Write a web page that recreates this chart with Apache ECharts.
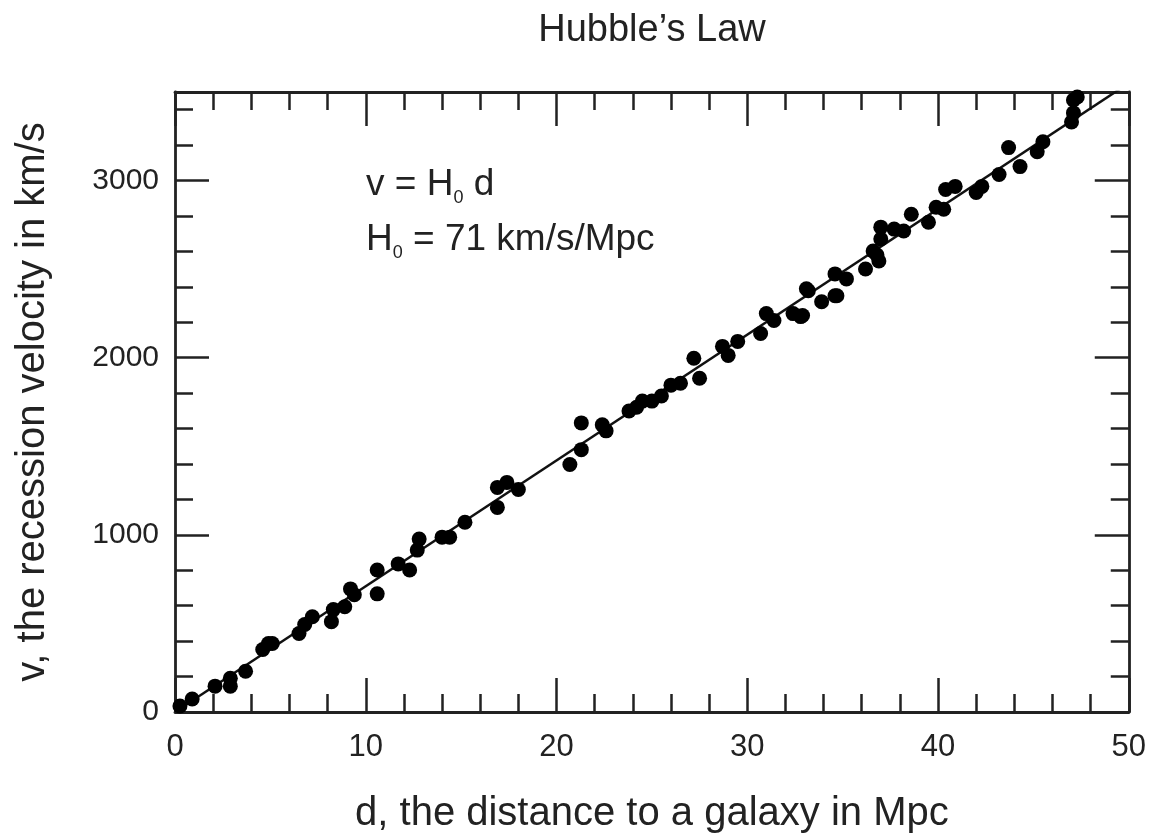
<!DOCTYPE html>
<html><head><meta charset="utf-8">
<script src="https://cdn.jsdelivr.net/npm/echarts@6/dist/echarts.min.js"></script>
<style>html,body{margin:0;padding:0;background:#fff}#c{width:1149px;height:839px}</style>
</head><body><div id="c"></div>
<script>
const distances = [0.26,0.9,2.1,2.9,2.9,3.7,4.6,4.9,5.1,6.5,6.8,7.2,8.2,8.3,8.9,9.2,9.4,10.6,10.6,11.7,12.3,12.7,12.8,14.0,14.4,15.2,16.9,16.9,17.4,18.0,20.7,21.3,21.3,22.4,22.6,23.8,24.5,25.0,25.5,26.0,26.5,27.2,27.5,28.7,29.0,29.5,30.7,31.0,31.4,32.4,32.8,33.9,33.2,34.7,32.9,33.1,34.6,34.6,35.2,36.2,36.6,36.9,37.0,37.0,37.7,38.2,38.6,39.5,39.9,40.3,40.4,40.9,42.0,42.3,43.2,43.7,44.3,45.2,45.5,47.0,47.1,47.1,47.3,24.2,36.8];
const velocities = [34,73,146,190,146,230,353,387,387,443,494,538,510,578,594,695,662,802,667,836,802,914,976,987,987,1071,1268,1155,1296,1256,1397,1481,1632,1621,1587,1699,1755,1755,1784,1845,1856,1997,1884,2064,2013,2092,2137,2249,2210,2249,2232,2316,2378,2350,2238,2389,2350,2473,2445,2501,2602,2546,2737,2670,2726,2715,2810,2765,2849,2838,2950,2967,2933,2967,3034,3186,3079,3163,3219,3331,3382,3455,3472,1720,2580];
const fitD = [0, 50];
const fitV = [0, 3550];
const xTicks = [0,10,20,30,40,50];
const yTicks = [0,1000,2000,3000];

const font = 'Liberation Sans, Arial, Helvetica, sans-serif';
const pts = distances.map((d,i)=>[d, velocities[i]]);
const fit = fitD.map((d,i)=>[d, fitV[i]]);

const axisCommon = {
  axisLine:{show:true, onZero:false, lineStyle:{color:'#222', width:2.8}},
  axisTick:{show:true, inside:true, length:34, lineStyle:{color:'#222', width:2.5}},
  minorTick:{show:true, splitNumber:5, length:18, lineStyle:{color:'#222', width:2.5}},
  splitLine:{show:false}
};
const sub = {fontFamily:font, fontSize:18, fill:'#222', padding:[26,0,0,0], lineHeight:44};
const main = {fontFamily:font, fontSize:37, fill:'#222', lineHeight:44};
const chart = echarts.init(document.getElementById('c'));
chart.setOption({
  animation:false,
  backgroundColor:'#fff',
  grid:{left:175, right:19, top:92, bottom:123},
  xAxis:[
    Object.assign({type:'value', min:0, max:50, interval:10, position:'bottom',
      name:'d, the distance to a galaxy in Mpc', nameLocation:'middle', nameGap:82,
      nameTextStyle:{fontFamily:font, fontSize:40, color:'#222'},
      axisLabel:{show:true, fontFamily:font, fontSize:31, color:'#222', margin:20,
        formatter:v=>xTicks.includes(v)?String(v):''}}, axisCommon),
    Object.assign({type:'value', min:0, max:50, interval:10, position:'top', axisLabel:{show:false}}, axisCommon)
  ],
  yAxis:[
    Object.assign({type:'value', min:0, max:3500, interval:1000, position:'left',
      name:'v, the recession velocity in km/s', nameLocation:'middle', nameGap:122, nameRotate:90,
      nameTextStyle:{fontFamily:font, fontSize:40, color:'#222'},
      axisLabel:{show:true, fontFamily:font, fontSize:30, color:'#222', margin:16,
        formatter:v=>yTicks.includes(v)?String(v):''}}, axisCommon),
    Object.assign({type:'value', min:0, max:3500, interval:1000, position:'right', axisLabel:{show:false}}, axisCommon)
  ],
  graphic:[
    {type:'text', x:652, y:12, style:{text:"Hubble’s Law", fontFamily:font, fontSize:38, fill:'#222', align:'center', verticalAlign:'top'}},
    {type:'text', left:366, top:163, style:{text:'{a|v = H}{s|0}{a| d}', fontFamily:font, rich:{a:main, s:sub}}},
    {type:'text', left:366, top:218, style:{text:'{a|H}{s|0}{a| = 71 km/s/Mpc}', fontFamily:font, rich:{a:main, s:sub}}}
  ],
  series:[
    {type:'line', data:fit, xAxisIndex:0, yAxisIndex:0, symbol:'none', clip:true,
      lineStyle:{color:'#111', width:2.5}, z:2},
    {type:'scatter', data:pts, xAxisIndex:0, yAxisIndex:0, symbol:'circle', symbolSize:15,
      itemStyle:{color:'#000', opacity:1}, z:3}
  ]
});
</script></body></html>
